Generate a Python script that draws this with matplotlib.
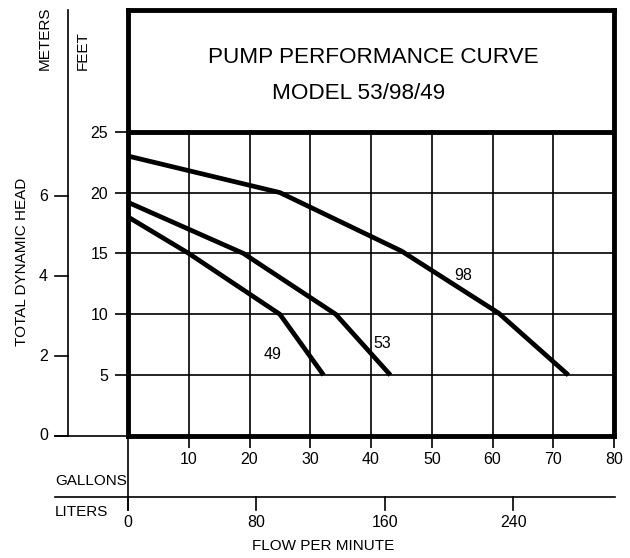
import matplotlib
matplotlib.use("Agg")
from matplotlib import pyplot as plt

plt.rcParams['font.family'] = ['Liberation Sans', 'DejaVu Sans']

# pump curves: flow (gallons/min) vs head (feet)
gal_98 = [0, 25, 45, 61, 72.5]
ft_98 = [23, 20, 15.2, 10.1, 5]
gal_53 = [0, 19, 34.2, 43.2]
ft_53 = [19.2, 15, 10, 5]
gal_49 = [0, 10, 25, 32.2]
ft_49 = [18, 15, 10, 5]

gal_ticks = [10, 20, 30, 40, 50, 60, 70, 80]
ft_ticks = [5, 10, 15, 20, 25]
m_ticks = [0, 2, 4, 6]
l_ticks = [0, 80, 160, 240]

M2FT = 3.28084
L2GAL = 1 / 3.78541

fig = plt.figure(figsize=(6.3, 5.58), dpi=100)
ax = fig.add_axes([128/630, 122/558, 486/630, 426/558])
ax.set_xlim(0, 80)
ax.set_ylim(0, 35)
for s in ax.spines.values():
    s.set_linewidth(3.5)

# grid
for g in gal_ticks[:-1]:
    ax.plot([g, g], [0, 25], color='black', lw=1.2)
for f in ft_ticks[:-1]:
    ax.plot([0, 80], [f, f], color='black', lw=1.2)
ax.plot([0, 80], [25, 25], color='black', lw=3.5)

# curves
for x, y in [(gal_98, ft_98), (gal_53, ft_53), (gal_49, ft_49)]:
    ax.plot(x, y, color='black', lw=3.4, solid_joinstyle='round', solid_capstyle='butt')
ax.text(55.1, 13.2, '98', fontsize=11.5, ha='center', va='center')
ax.text(41.9, 7.6, '53', fontsize=11.5, ha='center', va='center')
ax.text(23.8, 6.7, '49', fontsize=11.5, ha='center', va='center')

# feet / gallons ticks
ax.set_yticks(ft_ticks)
ax.set_xticks(gal_ticks)
ax.tick_params(axis='y', length=9.4, width=1.2, pad=5, labelsize=11.5)
ax.tick_params(axis='x', length=8.6, width=1.2, pad=3, labelsize=11.5)

# meters axis
mx = -9.88
ax.plot([mx, mx], [0, 35], color='black', lw=1.2, clip_on=False)
ax.plot([-12, 0], [0, 0], color='black', lw=1.2, clip_on=False)
for m in m_ticks:
    ax.plot([-12, mx], [m * M2FT] * 2, color='black', lw=1.2, clip_on=False)
    ax.text(-13.2, m * M2FT, str(m), fontsize=11.5, ha='right', va='center')

# liters axis
ly = -5.0
ax.plot([-12, 80.2], [ly, ly], color='black', lw=1.2, clip_on=False)
ax.plot([0, 0], [0, -6.1], color='black', lw=1.2, clip_on=False)
for l in l_ticks:
    ax.plot([l * L2GAL] * 2, [ly, -6.1], color='black', lw=1.2, clip_on=False)
    ax.text(l * L2GAL, -6.5, str(l), fontsize=11.5, ha='center', va='top')

# axis titles
ax.text(-12, -3.7, 'GALLONS', fontsize=11, ha='left', va='center')
ax.text(-12, -6.25, 'LITERS', fontsize=11, ha='left', va='center')
ax.text(32.1, -9.0, 'FLOW PER MINUTE', fontsize=11, ha='center', va='center')
ax.text(-13.7, 32.7, 'METERS', fontsize=11, ha='center', va='center', rotation=90)
ax.text(-7.4, 31.7, 'FEET', fontsize=11, ha='center', va='center', rotation=90)
ax.text(-17.4, 14.3, 'TOTAL DYNAMIC HEAD', fontsize=11, ha='center', va='center', rotation=90)

# title box
ax.text(40.3, 31.1, 'PUMP PERFORMANCE CURVE', fontsize=16.2, ha='center', va='center')
ax.text(37.9, 28.1, 'MODEL 53/98/49', fontsize=16.2, ha='center', va='center')

fig.savefig('out.png', dpi=100)
